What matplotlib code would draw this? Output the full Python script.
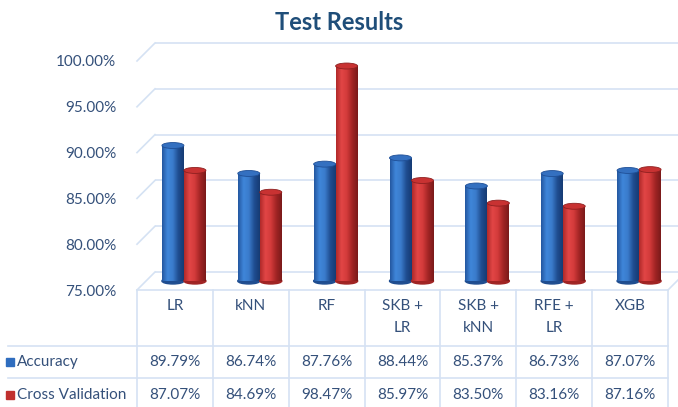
import numpy as np
import matplotlib
matplotlib.use("Agg")
import matplotlib.pyplot as plt
from matplotlib.transforms import ScaledTranslation
from matplotlib.patches import Ellipse, Rectangle
from matplotlib.colors import LinearSegmentedColormap

# data
models = ["LR", "kNN", "RF", "SKB +\nLR", "SKB +\nkNN", "RFE +\nLR", "XGB"]
accuracy = [89.79, 86.74, 87.76, 88.44, 85.37, 86.73, 87.07]
cross_val = [87.07, 84.69, 98.47, 85.97, 83.50, 83.16, 87.16]
series_names = ["Accuracy", "Cross Validation"]
yticks = [75, 80, 85, 90, 95, 100]

W, H = 678, 407
plt.rcParams['font.family'] = ['Lato', 'DejaVu Sans']
txt_col = "#34507A"
grid_col = "#D5E2F3"

fig = plt.figure(figsize=(W / 100, H / 100), dpi=100)

# overlay axes in pixel coords for table + decorations
ov = fig.add_axes([0, 0, 1, 1])
ov.set_xlim(0, W)
ov.set_ylim(H, 0)
ov.axis("off")

# main axes = front plane of the 3d box
left, right, bot, top = 137, 668, 290, 61
ax = fig.add_axes([left / W, 1 - bot / H, (right - left) / W, (bot - top) / H])
ax.set_xlim(-0.5, 6.5)
ax.set_ylim(75, 100)
ax.patch.set_alpha(0)
for s in ax.spines.values():
    s.set_visible(False)
ax.set_xticks([])
ax.set_yticks(yticks)
ax.set_yticklabels([f"{v:.2f}%" for v in yticks], fontsize=11, color=txt_col)
ax.tick_params(axis="y", length=0, pad=15)


def shifted(d):
    # depth offset: d pixels right and up
    return ax.transData + ScaledTranslation(d / 100, d / 100, fig.dpi_scale_trans)


depth = 18
# back wall gridlines
ax.hlines(yticks, -0.5, 7.0, colors=grid_col, lw=1.2, transform=shifted(depth), clip_on=False, zorder=0)
# diagonal side lines
to_px = ov.transData.inverted()
for v in yticks:
    p0 = to_px.transform(ax.transData.transform((-0.5, v)))
    ov.plot([p0[0], p0[0] + depth], [p0[1], p0[1] - depth], color=grid_col, lw=1.2, zorder=0)
p0 = to_px.transform(ax.transData.transform((6.5, 75)))
ov.plot([p0[0], p0[0] + depth], [p0[1], p0[1] - depth], color=grid_col, lw=1.2, zorder=0)

# cylinders
cmaps = [
    LinearSegmentedColormap.from_list("b", ["#2457A0", "#3F86DA", "#3A7BCB", "#1F4D90", "#163B74"]),
    LinearSegmentedColormap.from_list("r", ["#B02A2A", "#E24646", "#D23A3A", "#A02424", "#7A1A1A"]),
]
cap_cols = ["#3470C0", "#C83232"]
cap_edges = ["#1F4F96", "#8E2020"]
bw = 0.29
cap_h = 0.65
mid = shifted(depth / 2)
grad = np.linspace(0, 1, 64).reshape(1, -1)
x = np.arange(len(models))
for k, vals in enumerate([accuracy, cross_val]):
    xs = x + (k - 0.5) * bw
    for xc, v in zip(xs, vals):
        ax.add_patch(Ellipse((xc, 75), bw, cap_h, transform=mid, color=cmaps[k](0.75), zorder=2 + k))
        rect = Rectangle((xc - bw / 2, 75), bw, v - 75, transform=mid, facecolor="none", edgecolor="none")
        ax.add_patch(rect)
        im = ax.imshow(grad, cmap=cmaps[k], extent=[xc - bw / 2, xc + bw / 2, 75, v], aspect="auto",
                       transform=mid, zorder=2 + k, interpolation="bilinear")
        im.set_clip_path(rect)
        ax.add_patch(Ellipse((xc, v), bw, cap_h, transform=mid, facecolor=cap_cols[k],
                             edgecolor=cap_edges[k], lw=0.6, zorder=2.5 + k))
ax.set_xlim(-0.5, 6.5)
ax.set_ylim(75, 100)

# table
col_w = (right - left) / len(models)
row_lines = [346, 378]
ov.plot([left, right], [bot, bot], color=grid_col, lw=1.2)
for yl in row_lines:
    ov.plot([8, right], [yl, yl], color=grid_col, lw=1.2)
for i in range(len(models) + 1):
    xl = left + i * col_w
    ov.plot([xl, xl], [bot, H], color=grid_col, lw=1.2)

for i, m in enumerate(models):
    xc = left + (i + 0.5) * col_w
    ov.text(xc, 299, m, ha="center", va="top", fontsize=11, color=txt_col, linespacing=1.7)
    ov.text(xc, 362, f"{accuracy[i]:.2f}%", ha="center", va="center", fontsize=11, color=txt_col)
    ov.text(xc, 395, f"{cross_val[i]:.2f}%", ha="center", va="center", fontsize=11, color=txt_col)

row_y = [362, 395]
key_cols = ["#2F6DBF", "#C0302E"]
for name, yy, c in zip(series_names, row_y, key_cols):
    ov.add_patch(Rectangle((6, yy - 4), 8, 8, color=c))
    ov.text(17, yy, name, ha="left", va="center", fontsize=11, color=txt_col)

fig.text(0.5, 1 - 23 / H, "Test Results", ha="center", va="center", fontsize=17,
         fontweight="bold", color="#1F4E79")

fig.savefig("out.png", dpi=100)
